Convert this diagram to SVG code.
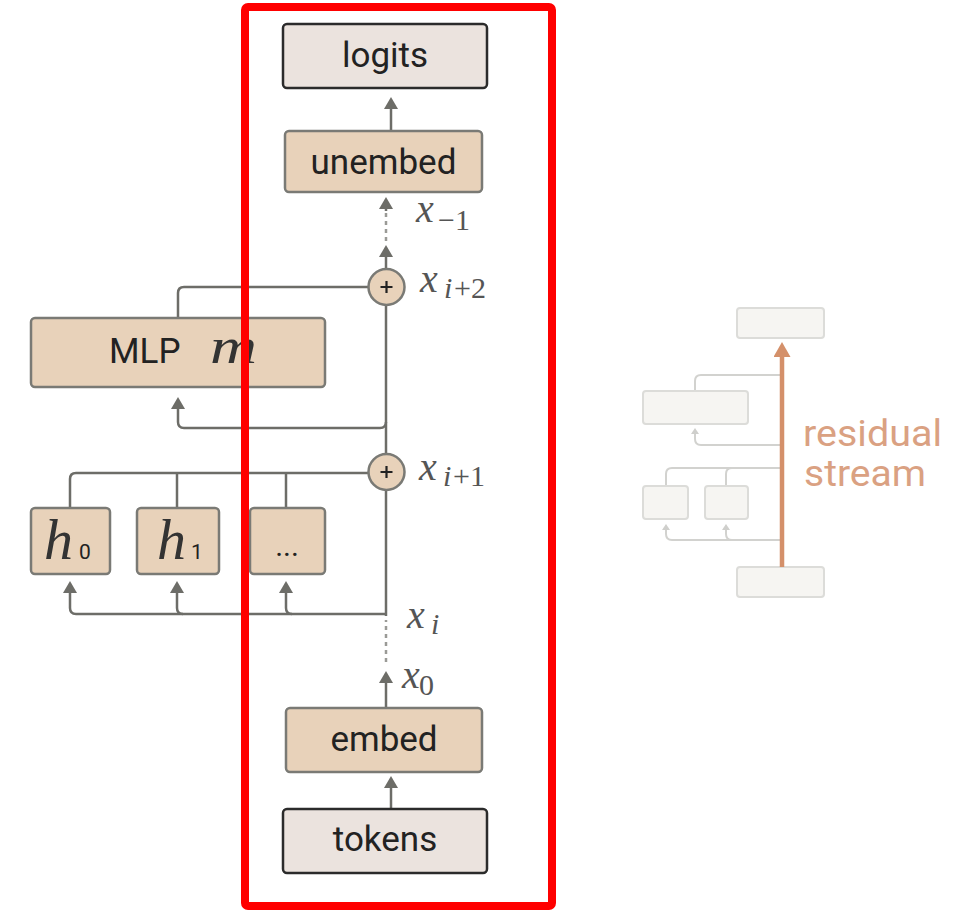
<svg xmlns="http://www.w3.org/2000/svg" width="961" height="910" viewBox="0 0 961 910">
  <style>
    .io { fill: #ebe3de; stroke: #2b2b2b; stroke-width: 2.5; }
    .blk { fill: #e8d2ba; stroke: #7a7a75; stroke-width: 2.5; }
    .lbl { font-family: Roboto, "Liberation Sans", sans-serif; font-size: 35px; fill: #222; }
    .wire { fill: none; stroke: #6d6d68; stroke-width: 2.5; }
    .dot { fill: none; stroke: #9a9a96; stroke-width: 2.5; stroke-dasharray: 4 4; }
    .mi { font-family: "Liberation Serif", "DejaVu Serif", serif; font-style: italic; fill: #555; }
    .mr { font-family: "Liberation Serif", "DejaVu Serif", serif; fill: #555; }
    .ghost { fill: #f6f5f2; stroke: #dcdcd9; stroke-width: 2; }
    .gwire { fill: none; stroke: #d2d2cf; stroke-width: 2; }
    .rs { font-family: Roboto, "Liberation Sans", sans-serif; font-size: 37px; fill: #daa182; }
  </style>
  <defs>
    <marker id="ah" markerUnits="userSpaceOnUse" markerWidth="12" markerHeight="14" refX="0" refY="7" orient="auto" viewBox="0 0 12 14">
      <path d="M0 0 L12 7 L0 14 Z" fill="#6d6d68"/>
    </marker>
    <marker id="gah" markerUnits="userSpaceOnUse" markerWidth="6" markerHeight="8" refX="0" refY="4" orient="auto" viewBox="0 0 6 8">
      <path d="M0 0 L6 4 L0 8 Z" fill="#cfcfcc"/>
    </marker>
    <marker id="rah" markerUnits="userSpaceOnUse" markerWidth="15" markerHeight="17" refX="0" refY="8.5" orient="auto" viewBox="0 0 15 17">
      <path d="M0 0 L15 8.5 L0 17 Z" fill="#d4906a"/>
    </marker>
  </defs>

  <!-- connectors -->
  <g id="connectors">
    <!-- residual stream -->
    <path class="wire" d="M386 708 V683" marker-end="url(#ah)"/>
    <path class="dot" d="M386 662 V620"/>
    <path class="wire" d="M386 616 V490"/>
    <path class="wire" d="M386 454 V305"/>
    <path class="wire" d="M386 269 V257" marker-end="url(#ah)"/>
    <path class="dot" d="M386 241 V209"/>
    <path class="wire" d="M386 211 V209" marker-end="url(#ah)"/>
    <path class="wire" d="M391 809 V788" marker-end="url(#ah)"/>
    <path class="wire" d="M391 131 V109" marker-end="url(#ah)"/>
    <!-- attention heads: inputs -->
    <path class="wire" d="M386 614 H76 Q70 614 70 608 V593" marker-end="url(#ah)"/>
    <path class="wire" d="M183 614 Q177 614 177 608 V593" marker-end="url(#ah)"/>
    <path class="wire" d="M292 614 Q286 614 286 608 V593" marker-end="url(#ah)"/>
    <!-- attention heads: outputs -->
    <path class="wire" d="M368 473 H76 Q70 473 70 479 V508"/>
    <path class="wire" d="M177 473 V508"/>
    <path class="wire" d="M286 473 V508"/>
    <!-- MLP input / output -->
    <path class="wire" d="M386 422 Q386 428 380 428 H184 Q178 428 178 422 V409" marker-end="url(#ah)"/>
    <path class="wire" d="M178 318 V293 Q178 287 184 287 H368"/>
  </g>

  <!-- nodes -->
  <g id="logits">
    <rect class="io" x="283" y="24" width="204" height="64" rx="4"/>
    <text class="lbl" x="385" y="67" text-anchor="middle">logits</text>
  </g>
  <g id="unembed">
    <rect class="blk" x="285" y="131" width="197" height="61" rx="4"/>
    <text class="lbl" x="383.5" y="174" text-anchor="middle">unembed</text>
  </g>
  <g id="add2">
    <circle class="blk" cx="386.5" cy="287" r="18"/>
    <path d="M380.5 287 H392.5 M386.5 281 V293" stroke="#222" stroke-width="2.2"/>
  </g>
  <g id="add1">
    <circle class="blk" cx="386.5" cy="472" r="18"/>
    <path d="M380.5 472 H392.5 M386.5 466 V478" stroke="#222" stroke-width="2.2"/>
  </g>
  <g id="mlp">
    <rect class="blk" x="31" y="318" width="294" height="69" rx="4"/>
    <text class="lbl" x="109" y="363">MLP</text>
    <text class="mi" x="210" y="363" font-size="50" style="fill:#333" textLength="47" lengthAdjust="spacingAndGlyphs">m</text>
  </g>
  <g id="h0">
    <rect class="blk" x="31" y="508" width="79" height="66" rx="4"/>
    <text class="mi" x="44" y="559" font-size="58" style="fill:#333">h</text>
    <text class="lbl" x="79" y="559" style="font-size:21px">0</text>
  </g>
  <g id="h1">
    <rect class="blk" x="137" y="508" width="82" height="66" rx="4"/>
    <text class="mi" x="157" y="559" font-size="58" style="fill:#333">h</text>
    <text class="lbl" x="191" y="559" style="font-size:21px">1</text>
  </g>
  <g id="hmore">
    <rect class="blk" x="250" y="508" width="75" height="66" rx="4"/>
    <text class="lbl" x="287" y="556" text-anchor="middle" style="font-size:30px">...</text>
  </g>
  <g id="embed">
    <rect class="blk" x="286" y="708" width="196" height="64" rx="4"/>
    <text class="lbl" x="384" y="751" text-anchor="middle">embed</text>
  </g>
  <g id="tokens">
    <rect class="io" x="283" y="809" width="204" height="64" rx="4"/>
    <text class="lbl" x="385" y="851" text-anchor="middle">tokens</text>
  </g>

  <!-- stream labels -->
  <g id="labels">
    <text class="mi" x="416" y="222" font-size="40">x</text>
    <text class="mr" x="438" y="230" font-size="30">−1</text>
    <text class="mi" x="420" y="292" font-size="40">x</text>
    <text class="mi" x="444" y="298" font-size="30">i</text>
    <text class="mr" x="454" y="298" font-size="30">+2</text>
    <text class="mi" x="419" y="480" font-size="40">x</text>
    <text class="mi" x="443" y="486" font-size="30">i</text>
    <text class="mr" x="453" y="486" font-size="30">+1</text>
    <text class="mi" x="407" y="628" font-size="40">x</text>
    <text class="mi" x="431" y="634" font-size="30">i</text>
    <text class="mi" x="402" y="688" font-size="40">x</text>
    <text class="mr" x="419" y="695" font-size="30">0</text>
  </g>

  <!-- highlight frame -->
  <rect id="frame" x="245" y="7" width="307" height="899" rx="3" fill="none" stroke="#ff0000" stroke-width="8"/>

  <!-- residual stream overview -->
  <g id="overview">
    <path class="gwire" d="M695 391 V381 Q695 375 701 375 H782"/>
    <path class="gwire" d="M782 445 H701 Q695 445 695 439 V434" marker-end="url(#gah)"/>
    <path class="gwire" d="M782 468 H672 Q666 468 666 474 V486"/>
    <path class="gwire" d="M732 468 Q726 468 726 474 V486"/>
    <path class="gwire" d="M782 540 H672 Q666 540 666 534 V530" marker-end="url(#gah)"/>
    <path class="gwire" d="M732 540 Q726 540 726 534 V530" marker-end="url(#gah)"/>
    <rect class="ghost" x="737" y="308" width="87" height="30" rx="3"/>
    <rect class="ghost" x="643" y="391" width="105" height="33" rx="3"/>
    <rect class="ghost" x="643" y="486" width="45" height="33" rx="3"/>
    <rect class="ghost" x="705" y="486" width="43" height="33" rx="3"/>
    <rect class="ghost" x="737" y="567" width="87" height="30" rx="3"/>
    <path d="M782 567 V357" fill="none" stroke="#d4906a" stroke-width="4.5" marker-end="url(#rah)"/>
    <text class="rs" x="803" y="446" textLength="139" lengthAdjust="spacingAndGlyphs">residual</text>
    <text class="rs" x="804" y="486" textLength="122" lengthAdjust="spacingAndGlyphs">stream</text>
  </g>
</svg>
